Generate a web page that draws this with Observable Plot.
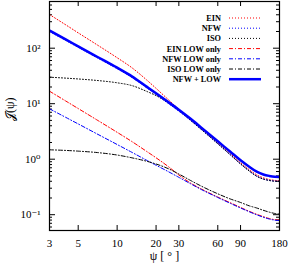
<!DOCTYPE html>
<html><head><meta charset="utf-8">
<script src="https://cdn.jsdelivr.net/npm/d3@7"></script>
<script src="https://cdn.jsdelivr.net/npm/@observablehq/plot@0.6"></script>
<style>
body{margin:0;background:#fff;}
#chart{position:relative;width:299px;height:272px;}
</style></head><body><div id="chart"></div>
<script>
// angle psi (degrees)
const psi        = [3, 4, 5, 7, 10, 13, 17, 20, 25, 30, 37, 45, 60, 75, 90, 105, 120, 135, 150, 165, 180];
// J(psi) series
const ein        = [404, 264, 189, 115, 67.3, 44.5, 26.5, 18.9, 11.7, 7.92, 5.21, 3.53, 1.98, 1.265, 0.861, 0.646, 0.523, 0.461, 0.432, 0.416, 0.411];
const nfw        = [200, 138, 103.7, 67.3, 42.7, 29.8, 19.2, 14.6, 10.0, 7.32, 4.98, 3.39, 1.90, 1.20, 0.823, 0.616, 0.496, 0.440, 0.416, 0.403, 0.400];
const iso        = [30.0, 28.9, 27.9, 26.2, 23.8, 21.2, 16.6, 14.0, 10.3, 7.53, 5.02, 3.40, 1.90, 1.20, 0.82, 0.612, 0.492, 0.437, 0.413, 0.401, 0.398];
const einLow     = [16.8, 11.2, 8.18, 5.08, 3.05, 2.08, 1.37, 1.06, 0.729, 0.519, 0.371, 0.289, 0.208, 0.164, 0.135, 0.115, 0.1016, 0.0920, 0.0853, 0.0815, 0.0801];
const nfwLow     = [8.09, 5.68, 4.32, 2.85, 1.84, 1.33, 0.95, 0.778, 0.593, 0.471, 0.360, 0.282, 0.204, 0.160, 0.132, 0.113, 0.0995, 0.0900, 0.0836, 0.0798, 0.0785];
const isoLow     = [1.476, 1.439, 1.397, 1.318, 1.189, 1.059, 0.916, 0.819, 0.671, 0.541, 0.413, 0.325, 0.238, 0.192, 0.166, 0.1445, 0.132, 0.120, 0.1112, 0.1054, 0.1032];
const nfwPlusLow = [208, 144, 108, 70.2, 44.5, 31.1, 20.1, 15.4, 10.6, 7.79, 5.34, 3.67, 2.10, 1.36, 0.955, 0.729, 0.595, 0.530, 0.500, 0.483, 0.479];

const seriesNames = ["EIN", "NFW", "ISO", "EIN LOW only", "NFW LOW only", "ISO LOW only", "NFW + LOW"];
const xTicks = [3, 5, 10, 20, 30, 60, 90, 180];
const yTicks = [0.1, 1, 10, 100];
const yTickLabels = ["10\u207B\u00B9", "10\u2070", "10\u00B9", "10\u00B2"];
const xLabel = "\u03C8 [ \u00B0 ]";
const yLabel = "\uD835\uDCA5(\u03C8)";

const seriesValues = [ein, nfw, iso, einLow, nfwLow, isoLow, nfwPlusLow];
const seriesStyles = [
  {stroke: "#ff0000", strokeWidth: 1, strokeDasharray: "1,2"},
  {stroke: "#0000ff", strokeWidth: 1, strokeDasharray: "1,2"},
  {stroke: "#000000", strokeWidth: 1, strokeDasharray: "1,2"},
  {stroke: "#ff0000", strokeWidth: 1, strokeDasharray: "4,2,1,2"},
  {stroke: "#0000ff", strokeWidth: 1, strokeDasharray: "4,2,1,2"},
  {stroke: "#000000", strokeWidth: 1, strokeDasharray: "4,2,1,2"},
  {stroke: "#0000ff", strokeWidth: 2.5, strokeDasharray: null}
];

const W = 299, H = 272, mL = 49, mR = 20, mT = 1, mB = 42;
const iW = W - mL - mR, iH = H - mT - mB;
const serif = "'Liberation Serif', 'DejaVu Serif', serif";

const minorY = [];
for (let k = -2; k <= 2; k++) for (let m = 2; m <= 9; m++) {
  const v = m * Math.pow(10, k);
  if (v > 0.0519 && v < 694) minorY.push(v);
}
const innerX = xTicks.filter(d => d > 3 && d < 180);

const lines = seriesValues.map((vals, s) => {
  const data = psi.map((p, i) => ({psi: p, J: vals[i]}));
  const st = seriesStyles[s];
  const opts = {x: "psi", y: "J", curve: "monotone-x", stroke: st.stroke, strokeWidth: st.strokeWidth, clip: true};
  if (st.strokeDasharray) opts.strokeDasharray = st.strokeDasharray;
  return Plot.line(data, opts);
});

const plot = Plot.plot({
  width: W, height: H,
  marginLeft: mL, marginRight: mR, marginTop: mT, marginBottom: mB,
  style: {fontFamily: serif, background: "white", color: "black"},
  x: {type: "log", domain: [3, 180], axis: null},
  y: {type: "log", domain: [0.0519, 694], axis: null},
  marks: [
    Plot.ruleX(innerX, {x: d => d, insetTop: iH - 5, stroke: "black"}),
    Plot.ruleX(innerX, {x: d => d, insetBottom: iH - 5, stroke: "black"}),
    Plot.ruleY(yTicks, {y: d => d, insetRight: iW - 6, stroke: "black"}),
    Plot.ruleY(yTicks, {y: d => d, insetLeft: iW - 6, stroke: "black"}),
    Plot.ruleY(minorY, {y: d => d, insetRight: iW - 3, stroke: "black"}),
    Plot.ruleY(minorY, {y: d => d, insetLeft: iW - 3, stroke: "black"}),
    ...lines,
    Plot.frame({stroke: "black", strokeWidth: 1.2}),
    Plot.text(yTicks, {y: d => d, text: (d, i) => yTickLabels[i], frameAnchor: "left", textAnchor: "end", lineAnchor: "middle", dx: -9, fontSize: 11}),
    Plot.text([xLabel], {text: d => d, frameAnchor: "bottom", lineAnchor: "middle", dy: 25.5, fontSize: 12}),
    Plot.text([yLabel], {text: d => d, frameAnchor: "left", lineAnchor: "middle", dx: -39, dy: 5, rotate: -90, fontSize: 12}),
    Plot.text(xTicks, {x: d => d, text: d => String(d), frameAnchor: "bottom", lineAnchor: "middle", dy: 12.5, fontSize: 11})
  ]
});

// legend inside the plot, top-right
const svg = d3.select(plot);
const lg = svg.append("g").attr("font-family", serif).attr("font-size", 8.3).attr("font-weight", "bold");
seriesNames.forEach((name, i) => {
  const y = 18 + i * 10.2;
  const st = seriesStyles[i];
  lg.append("text").attr("x", 221).attr("y", y).attr("dy", "0.35em").attr("text-anchor", "end").attr("fill", "black").text(name);
  const ln = lg.append("line").attr("x1", 229).attr("x2", 261).attr("y1", y).attr("y2", y)
    .attr("stroke", st.stroke).attr("stroke-width", st.strokeWidth);
  if (st.strokeDasharray) ln.attr("stroke-dasharray", st.strokeDasharray);
});

document.getElementById("chart").appendChild(plot);
</script>
</body></html>
